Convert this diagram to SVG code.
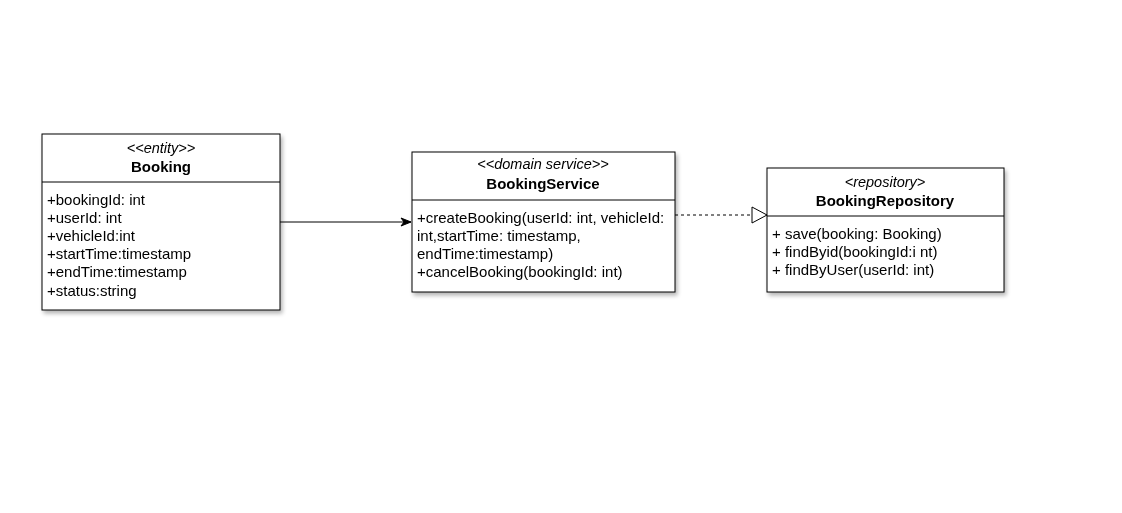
<svg xmlns="http://www.w3.org/2000/svg" width="1122" height="513" viewBox="0 0 1122 513">
<style>
.box{fill:#ffffff;stroke:#000000;stroke-width:1}
.div{stroke:#000000;stroke-width:1}
text{font-family:"Liberation Sans",Arial,sans-serif;font-size:15px;fill:#000000}
.st{font-style:italic;text-anchor:middle;font-size:14.5px}
.nm{font-weight:bold;text-anchor:middle}
.edge{fill:none;stroke:#000000;stroke-width:1}
</style>
<defs>
<filter id="sh" x="-10%" y="-10%" width="130%" height="130%">
<feGaussianBlur in="SourceAlpha" stdDeviation="2"/>
<feOffset dx="2" dy="3" result="b"/>
<feComponentTransfer><feFuncA type="linear" slope="0.3"/></feComponentTransfer>
<feMerge><feMergeNode/><feMergeNode in="SourceGraphic"/></feMerge>
</filter>
<marker id="arr" markerWidth="12" markerHeight="10" refX="11" refY="5" orient="auto" markerUnits="userSpaceOnUse">
<path d="M1,1 L11,5 L1,9 L4,5 Z" fill="#000000" stroke="#000000" stroke-width="1"/>
</marker>
<marker id="tri" markerWidth="18" markerHeight="18" refX="16" refY="9" orient="auto" markerUnits="userSpaceOnUse">
<path d="M1,1 L16,9 L1,17 Z" fill="#ffffff" stroke="#000000" stroke-width="1"/>
</marker>
</defs>
<rect width="1122" height="513" fill="#ffffff"/>
<g id="connectors">
<path class="edge" d="M280,222 L411,222" marker-end="url(#arr)"/>
<path class="edge" d="M675,215 L767,215" stroke-dasharray="3,3" marker-end="url(#tri)"/>
</g>
<g id="Booking" filter="url(#sh)">
<rect class="box" x="42" y="134" width="238" height="176"/>
<line class="div" x1="42" y1="182" x2="280" y2="182"/>
<text class="st" x="161" y="153">&lt;&lt;entity&gt;&gt;</text>
<text class="nm" x="161" y="172">Booking</text>
<text x="47" y="205">+bookingId: int</text>
<text x="47" y="223">+userId: int</text>
<text x="47" y="241">+vehicleId:int</text>
<text x="47" y="259">+startTime:timestamp</text>
<text x="47" y="277">+endTime:timestamp</text>
<text x="47" y="296">+status:string</text>
</g>
<g id="BookingService" filter="url(#sh)">
<rect class="box" x="412" y="152" width="263" height="140"/>
<line class="div" x1="412" y1="200" x2="675" y2="200"/>
<text class="st" x="543" y="169">&lt;&lt;domain service&gt;&gt;</text>
<text class="nm" x="543" y="189">BookingService</text>
<text x="417" y="223">+createBooking(userId: int, vehicleId:</text>
<text x="417" y="241">int,startTime: timestamp,</text>
<text x="417" y="259">endTime:timestamp)</text>
<text x="417" y="277">+cancelBooking(bookingId: int)</text>
</g>
<g id="BookingRepository" filter="url(#sh)">
<rect class="box" x="767" y="168" width="237" height="124"/>
<line class="div" x1="767" y1="216" x2="1004" y2="216"/>
<text class="st" x="885" y="187">&lt;repository&gt;</text>
<text class="nm" x="885" y="206">BookingRepository</text>
<text x="772" y="239">+ save(booking: Booking)</text>
<text x="772" y="257">+ findByid(bookingId:i nt)</text>
<text x="772" y="275">+ findByUser(userId: int)</text>
</g>
</svg>
